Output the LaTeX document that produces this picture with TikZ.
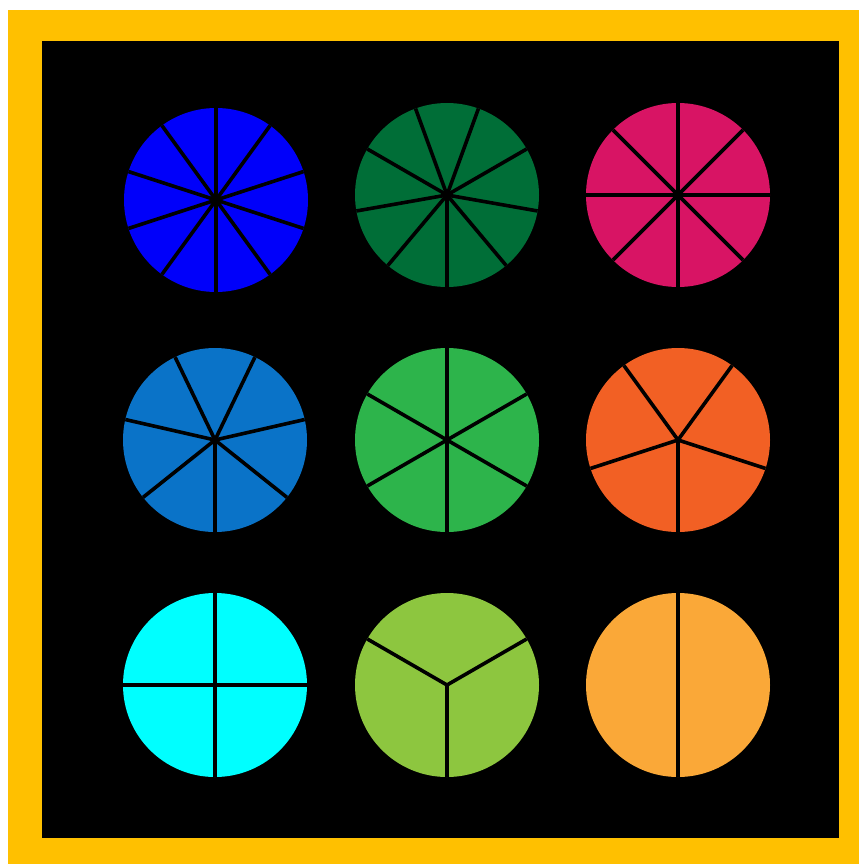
\documentclass[tikz,border=0pt]{standalone}
\usetikzlibrary{calc}
\definecolor{frameyellow}{RGB}{255,192,0}
\definecolor{cA}{RGB}{0,0,250}
\definecolor{cB}{RGB}{0,110,55}
\definecolor{cC}{RGB}{216,20,100}
\definecolor{cD}{RGB}{10,115,200}
\definecolor{cE}{RGB}{45,180,75}
\definecolor{cF}{RGB}{242,96,36}
\definecolor{cG}{RGB}{0,255,255}
\definecolor{cH}{RGB}{141,198,63}
\definecolor{cI}{RGB}{250,168,56}
\tikzset{
  spoke/.style={draw=black, line width=3.6pt},
  disc/.style={fill=#1, draw=none},
}
\begin{document}
\begin{tikzpicture}[x=1pt,y=-1pt]
\useasboundingbox (0,0) rectangle (859,864);
\fill[white] (0,0) rectangle (859,864);
\fill[frameyellow] (8,10) rectangle (859,864);
\fill[black] (42,41) rectangle (839,838);
\foreach \cx/\cy/\col/\n/\nm in {216/200/cA/10/a, 447/195/cB/9/b, 678/195/cC/8/c,
  215/440/cD/7/d, 447/440/cE/6/e, 678/440/cF/5/f,
  215/685/cG/4/g, 447/685/cH/3/h, 678/685/cI/2/i}{
  \coordinate (\nm) at (\cx,\cy);
  \fill[disc=\col] (\nm) circle (92);
  \foreach \k in {1,...,\n}{
    \draw[spoke] (\nm) -- ++({90+\k*360/\n}:92);
  }
}
\end{tikzpicture}
\end{document}
